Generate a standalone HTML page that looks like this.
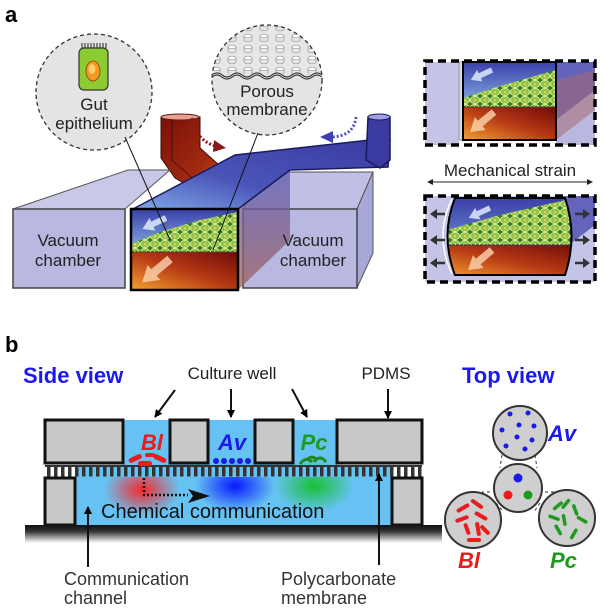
<!DOCTYPE html>
<html><head><meta charset="utf-8"><style>
html,body{margin:0;padding:0;background:#fff;width:604px;height:614px;overflow:hidden}
svg{display:block}
text{font-family:"Liberation Sans",sans-serif}
</style></head><body>
<svg width="604" height="614" viewBox="0 0 604 614" xmlns="http://www.w3.org/2000/svg">
<defs>
<linearGradient id="blueTop" x1="0" y1="0" x2="0" y2="1"><stop offset="0" stop-color="#3a3fa8"/><stop offset="1" stop-color="#8ab4e8"/></linearGradient>
<linearGradient id="redLow" x1="0" y1="1" x2="1" y2="0"><stop offset="0" stop-color="#f5a030"/><stop offset="0.5" stop-color="#b83a14"/><stop offset="1" stop-color="#6e0a0a"/></linearGradient>
<linearGradient id="chanTop" x1="0" y1="1" x2="1" y2="0"><stop offset="0" stop-color="#7fa8e6"/><stop offset="0.4" stop-color="#4a55b8"/><stop offset="1" stop-color="#3a3aa0"/></linearGradient>
<linearGradient id="sideFace" x1="0" y1="0" x2="0" y2="1"><stop offset="0" stop-color="#5a5cb8"/><stop offset="1" stop-color="#a0605a"/></linearGradient>
<linearGradient id="redTube" x1="0" y1="0" x2="1" y2="1"><stop offset="0" stop-color="#7a1008"/><stop offset="0.6" stop-color="#a02a10"/><stop offset="1" stop-color="#e07020"/></linearGradient>
<linearGradient id="base" x1="0" y1="0" x2="0" y2="1"><stop offset="0" stop-color="#111"/><stop offset="0.35" stop-color="#333"/><stop offset="1" stop-color="#fff"/></linearGradient>
<pattern id="cells" width="10" height="8" patternUnits="userSpaceOnUse">
<rect width="10" height="8" fill="#3f7a18"/>
<ellipse cx="5" cy="4" rx="4.6" ry="3.6" fill="#86c83a" stroke="#dff0b0" stroke-width="0.9"/>
<circle cx="5" cy="4.4" r="1.4" fill="#f2c070"/>
</pattern>
<pattern id="pores" width="16" height="11" patternUnits="userSpaceOnUse">
<rect width="16" height="11" fill="#e6e6e6"/>
<ellipse cx="8" cy="3" rx="4" ry="1.8" fill="#fff" stroke="#999" stroke-width="0.7"/>
<path d="M4 3v4a4 1.8 0 0 0 8 0V3" fill="none" stroke="#999" stroke-width="0.7"/>
</pattern>
<radialGradient id="gR"><stop offset="0" stop-color="#ff2020" stop-opacity="0.95"/><stop offset="1" stop-color="#ff2020" stop-opacity="0"/></radialGradient>
<radialGradient id="gB"><stop offset="0" stop-color="#0010ff" stop-opacity="0.95"/><stop offset="1" stop-color="#0010ff" stop-opacity="0"/></radialGradient>
<radialGradient id="gG"><stop offset="0" stop-color="#10c020" stop-opacity="0.9"/><stop offset="1" stop-color="#10c020" stop-opacity="0"/></radialGradient>
<clipPath id="circP"><circle cx="267" cy="80" r="55"/></clipPath>
<marker id="ah" markerWidth="8" markerHeight="8" refX="7" refY="4" orient="auto" markerUnits="userSpaceOnUse"><path d="M0,0L8,4L0,8z" fill="#000"/></marker>
<marker id="ahs" markerWidth="6" markerHeight="6" refX="5" refY="3" orient="auto-start-reverse" markerUnits="userSpaceOnUse"><path d="M0,0L6,3L0,6z" fill="#222"/></marker>
<path id="fa" d="M0,-3 L15,-3 L15,-7 L26,0 L15,7 L15,3 L0,3 Z"/>
</defs>

<text x="5" y="22" font-size="22" font-weight="bold">a</text>

<!-- red tube -->
<path d="M161 117 L200 117 L200 148 L230 175 L205 195 L175 178 L161 158 Z" fill="url(#redTube)" stroke="#3a0a0a" stroke-width="1"/>
<path d="M172 120 V160 L200 185" fill="none" stroke="#3a0a0a" stroke-width="0.8"/>
<ellipse cx="180" cy="117" rx="19" ry="3" fill="#e8a090" stroke="#5a1a1a" stroke-width="1"/>

<!-- left box -->
<polygon points="13,209 125,209 170,170 128,170" fill="#c8c8e8" stroke="#555" stroke-width="1"/>
<rect x="13" y="209" width="112" height="79" fill="#b8b8e0" stroke="#444" stroke-width="1.5"/>
<!-- right box -->
<polygon points="243,209 357,209 373,172 260,172" fill="#c0c0e6" stroke="#555" stroke-width="1"/>
<polygon points="357,209 373,172 373,253 357,288" fill="#a8a8d8" stroke="#555" stroke-width="1"/>
<rect x="243" y="209" width="114" height="79" fill="#b8b8e0" stroke="#444" stroke-width="1.5"/>
<polygon points="238,209 290,170 290,240 238,290" fill="url(#sideFace)" opacity="0.75"/>
<polygon points="133,209 235,155 370,140 390,140 388,167 290,170 238,209" fill="url(#chanTop)" stroke="#1a1a60" stroke-width="1.5"/>
<path d="M368 117 L390 117 L390 160 L380 168 L366 160 Z" fill="#3a3aa0" stroke="#1a1a60" stroke-width="1.5"/>
<ellipse cx="379" cy="117" rx="11" ry="3" fill="#a0a0e0" stroke="#1a1a60" stroke-width="1"/>
<!-- central front -->
<rect x="131" y="209" width="107" height="43" fill="url(#blueTop)"/>
<polygon points="131,252 131,244 160,232 200,220 238,212 238,252" fill="url(#cells)"/>
<rect x="131" y="252" width="107" height="38" fill="url(#redLow)"/>
<line x1="131" y1="252" x2="238" y2="252" stroke="#444" stroke-width="1.5" stroke-dasharray="3,1"/>
<use href="#fa" transform="translate(166,218) rotate(155)" fill="#dfeaff" opacity="0.85"/>
<use href="#fa" transform="translate(170,259) rotate(140) scale(1.4)" fill="#fbd6b0" opacity="0.8"/>
<rect x="131" y="209" width="107" height="81" fill="none" stroke="#000" stroke-width="2.5"/>
<text x="68" y="246" font-size="17" text-anchor="middle" fill="#222">Vacuum</text>
<text x="68" y="266" font-size="17" text-anchor="middle" fill="#222">chamber</text>
<text x="313" y="246" font-size="17" text-anchor="middle" fill="#222">Vacuum</text>
<text x="313" y="266" font-size="17" text-anchor="middle" fill="#222">chamber</text>

<path d="M192 118 Q196 140 215 146" fill="none" stroke="#8a1a1a" stroke-width="3" stroke-dasharray="2,2"/>
<polygon points="214,140 226,148 213,152" fill="#8a1a1a"/>
<path d="M356 117 Q354 136 332 137" fill="none" stroke="#5050b8" stroke-width="3" stroke-dasharray="2,2"/>
<polygon points="333,131 320,137 333,143" fill="#4040b0"/>

<circle cx="94" cy="92" r="58" fill="#e4e4e4" stroke="#333" stroke-width="1.3" stroke-dasharray="4,3"/>
<path d="M82 48 v-5 M85 48 v-5 M88 48 v-5 M91 48 v-5 M94 48 v-5 M97 48 v-5 M100 48 v-5 M103 48 v-5 M106 48 v-5" stroke="#222" stroke-width="1"/>
<rect x="79" y="48" width="29" height="42" rx="5" fill="#8ccc30" stroke="#333" stroke-width="1.2"/>
<ellipse cx="93" cy="71" rx="7" ry="10" fill="#f59a20" stroke="#a05010"/>
<ellipse cx="92" cy="69" rx="3.5" ry="5" fill="#ffcc70"/>
<text x="94" y="110" font-size="17" text-anchor="middle" fill="#222">Gut</text>
<text x="94" y="129" font-size="17" text-anchor="middle" fill="#222">epithelium</text>
<line x1="125" y1="137" x2="170" y2="240" stroke="#111" stroke-width="1"/>

<circle cx="267" cy="80" r="55" fill="#e4e4e4"/>
<rect x="210" y="24" width="115" height="50" fill="url(#pores)" clip-path="url(#circP)"/>
<path d="M212 76 q5 -4 10 0 t10 0 t10 0 t10 0 t10 0 t10 0 t10 0 t10 0 t10 0 t10 0 t10 0" fill="none" stroke="#222" stroke-width="3" clip-path="url(#circP)"/>
<path d="M212 76 q5 -4 10 0 t10 0 t10 0 t10 0 t10 0 t10 0 t10 0 t10 0 t10 0 t10 0 t10 0" fill="none" stroke="#ddd" stroke-width="1" clip-path="url(#circP)"/>
<circle cx="267" cy="80" r="55" fill="none" stroke="#333" stroke-width="1.3" stroke-dasharray="4,3"/>
<text x="267" y="97" font-size="17" text-anchor="middle" fill="#222">Porous</text>
<text x="267" y="115" font-size="17" text-anchor="middle" fill="#222">membrane</text>
<line x1="258" y1="133" x2="213" y2="250" stroke="#111" stroke-width="1"/>

<!-- right panel top -->
<rect x="425" y="62" width="34" height="83" fill="#c4c4e6"/>
<polygon points="459,62 466,62 466,140 459,140" fill="#d8d8f0" stroke="#888" stroke-width="0.8"/>
<rect x="556" y="62" width="39" height="83" fill="#b8b8e0"/>
<polygon points="556,62 595,62 595,90 556,120" fill="#5a5ab8" opacity="0.9"/>
<polygon points="556,80 595,70 595,110 556,140" fill="#a86a70" opacity="0.55"/>
<rect x="463" y="62" width="93" height="45" fill="url(#blueTop)"/>
<polygon points="463,107 463,98 500,86 556,70 556,107" fill="url(#cells)"/>
<rect x="463" y="107" width="93" height="33" fill="url(#redLow)"/>
<line x1="463" y1="107" x2="556" y2="107" stroke="#444" stroke-width="1.5" stroke-dasharray="3,1"/>
<use href="#fa" transform="translate(492,70) rotate(155) scale(0.9)" fill="#dfeaff" opacity="0.85"/>
<use href="#fa" transform="translate(494,112) rotate(140) scale(1.2)" fill="#fbd6b0" opacity="0.8"/>
<rect x="463" y="62" width="93" height="78" fill="none" stroke="#000" stroke-width="2"/>
<rect x="425" y="61" width="170" height="84" fill="none" stroke="#000" stroke-width="3.5" stroke-dasharray="8,5"/>

<text x="510" y="176" font-size="17" text-anchor="middle" fill="#222">Mechanical strain</text>
<line x1="428" y1="182" x2="592" y2="182" stroke="#222" stroke-width="1" marker-start="url(#ahs)" marker-end="url(#ahs)"/>

<!-- right panel bottom -->
<rect x="425" y="196" width="170" height="86" fill="#c4c4e6"/>
<polygon points="556,196 595,196 595,225 556,255" fill="#5a5ab8" opacity="0.9"/>
<clipPath id="bulge"><path d="M455 198 L565 198 Q578 236 565 275 L455 275 Q440 236 455 198 Z"/></clipPath>
<path d="M455 198 L565 198 Q578 236 565 275 L455 275 Q440 236 455 198 Z" fill="url(#blueTop)"/>
<g clip-path="url(#bulge)">
<polygon points="440,245 440,232 500,215 575,198 575,245" fill="url(#cells)"/>
<rect x="440" y="245" width="140" height="32" fill="url(#redLow)"/>
<line x1="440" y1="245" x2="580" y2="245" stroke="#444" stroke-width="1.5" stroke-dasharray="3,1"/>
<use href="#fa" transform="translate(490,208) rotate(155) scale(0.9)" fill="#dfeaff" opacity="0.85"/>
<use href="#fa" transform="translate(492,250) rotate(140) scale(1.2)" fill="#fbd6b0" opacity="0.8"/>
</g>
<path d="M455 198 L565 198 Q578 236 565 275 L455 275 Q440 236 455 198 Z" fill="none" stroke="#000" stroke-width="2"/>
<path d="M452 199 Q434 236 452 274" fill="none" stroke="#fff" stroke-width="1.5"/>
<g stroke="#333" stroke-width="2.5" fill="#333">
<line x1="445" y1="214" x2="434" y2="214"/><polygon points="430,214 437,209 437,219" stroke="none"/>
<line x1="445" y1="240" x2="434" y2="240"/><polygon points="430,240 437,235 437,245" stroke="none"/>
<line x1="445" y1="263" x2="434" y2="263"/><polygon points="430,263 437,258 437,268" stroke="none"/>
<line x1="575" y1="214" x2="586" y2="214"/><polygon points="590,214 583,209 583,219" stroke="none"/>
<line x1="575" y1="240" x2="586" y2="240"/><polygon points="590,240 583,235 583,245" stroke="none"/>
<line x1="575" y1="263" x2="586" y2="263"/><polygon points="590,263 583,258 583,268" stroke="none"/>
</g>
<rect x="425" y="196" width="170" height="86" fill="none" stroke="#000" stroke-width="3.5" stroke-dasharray="8,5"/>

<!-- panel b -->
<text x="5" y="352" font-size="22" font-weight="bold">b</text>
<text x="23" y="383" font-size="22" font-weight="bold" fill="#1a1aee">Side view</text>
<text x="232" y="379" font-size="17" text-anchor="middle" fill="#222">Culture well</text>
<text x="386" y="379" font-size="17" text-anchor="middle" fill="#222">PDMS</text>
<text x="462" y="383" font-size="22" font-weight="bold" fill="#1a1aee">Top view</text>

<rect x="123" y="420" width="214" height="47" fill="#66c2f2"/>
<rect x="75" y="465" width="317" height="60" fill="#66c2f2"/>
<ellipse cx="142" cy="490" rx="38" ry="26" fill="url(#gR)"/>
<ellipse cx="235" cy="486" rx="40" ry="26" fill="url(#gB)"/>
<ellipse cx="314" cy="486" rx="40" ry="26" fill="url(#gG)"/>
<rect x="45" y="465" width="377" height="12" fill="#fff"/>
<rect x="75" y="465" width="317" height="12" fill="#66c2f2"/>
<rect x="45" y="465" width="377" height="2" fill="#333"/>
<path d="M47 471 H422" stroke="#333" stroke-width="11" stroke-dasharray="3.5,3.5"/>
<g fill="#c8c8c8" stroke="#111" stroke-width="3">
<rect x="45" y="420" width="78" height="43"/>
<rect x="170" y="420" width="38" height="43"/>
<rect x="255" y="420" width="38" height="43"/>
<rect x="337" y="420" width="85" height="43"/>
<rect x="45" y="478" width="30" height="47"/>
<rect x="392" y="478" width="30" height="47"/>
</g>
<rect x="25" y="525" width="417" height="18" fill="url(#base)"/>
<g fill="#e81c1c">
<rect x="138" y="461" width="14" height="5" rx="2.5"/>
<rect x="128" y="456" width="14" height="5" rx="2.5" transform="rotate(-25 135 458)"/>
<rect x="153" y="456" width="14" height="5" rx="2.5" transform="rotate(25 160 458)"/>
<rect x="145" y="453" width="10" height="4" rx="2"/>
</g>
<g fill="#1a1ae6"><circle cx="216" cy="461" r="3"/><circle cx="224" cy="461" r="3"/><circle cx="232" cy="461" r="3"/><circle cx="240" cy="461" r="3"/><circle cx="248" cy="461" r="3"/></g>
<g fill="none" stroke="#1e8a1e" stroke-width="3"><path d="M300 464 q6 -8 12 -2"/><path d="M314 462 q6 -8 12 0"/><path d="M307 460 q4 -5 9 -1"/></g>
<text x="152" y="450" font-size="22" font-weight="bold" font-style="italic" text-anchor="middle" fill="#e81c1c">Bl</text>
<text x="232" y="450" font-size="22" font-weight="bold" font-style="italic" text-anchor="middle" fill="#1a1ae6">Av</text>
<text x="314" y="450" font-size="22" font-weight="bold" font-style="italic" text-anchor="middle" fill="#1e9a1e">Pc</text>
<path d="M144 478 V495 H188" fill="none" stroke="#111" stroke-width="2.5" stroke-dasharray="2,2"/>
<polygon points="188,489 210,496 188,503 193,496" fill="#111"/>
<text x="101" y="518" font-size="20" fill="#111">Chemical communication</text>
<g stroke="#111" stroke-width="2">
<line x1="175" y1="390" x2="155" y2="417" marker-end="url(#ah)"/>
<line x1="231" y1="389" x2="231" y2="417" marker-end="url(#ah)"/>
<line x1="292" y1="389" x2="307" y2="417" marker-end="url(#ah)"/>
<line x1="388" y1="389" x2="388" y2="418" marker-end="url(#ah)"/>
<line x1="88" y1="567" x2="88" y2="507" marker-end="url(#ah)"/>
<line x1="379" y1="565" x2="379" y2="474" marker-end="url(#ah)"/>
</g>
<text x="64" y="585" font-size="18" fill="#333">Communication</text>
<text x="64" y="604" font-size="18" fill="#333">channel</text>
<text x="281" y="585" font-size="18" fill="#333">Polycarbonate</text>
<text x="281" y="604" font-size="18" fill="#333">membrane</text>

<g stroke="#333" stroke-width="1" stroke-dasharray="3,3" fill="none">
<line x1="502" y1="455" x2="500" y2="468"/><line x1="535" y1="455" x2="537" y2="468"/>
<line x1="490" y1="492" x2="482" y2="492"/><line x1="496" y1="503" x2="502" y2="510"/>
<line x1="545" y1="492" x2="555" y2="492"/><line x1="540" y1="503" x2="534" y2="512"/>
</g>
<g fill="#cfcfcf" stroke="#333" stroke-width="2">
<circle cx="520" cy="433" r="27"/>
<circle cx="518" cy="488" r="24"/>
<circle cx="473" cy="520" r="28"/>
<circle cx="567" cy="518" r="28"/>
</g>
<g fill="#1a1ae6">
<circle cx="510" cy="414" r="2.5"/><circle cx="528" cy="413" r="2.5"/><circle cx="502" cy="430" r="2.5"/><circle cx="519" cy="425" r="2.5"/><circle cx="534" cy="426" r="2.5"/><circle cx="517" cy="437" r="2.5"/><circle cx="532" cy="440" r="2.5"/><circle cx="506" cy="446" r="2.5"/><circle cx="525" cy="449" r="2.5"/>
<circle cx="518" cy="478" r="4.5"/>
</g>
<circle cx="508" cy="495" r="4.5" fill="#e81c1c"/>
<circle cx="528" cy="495" r="4.5" fill="#1e9a1e"/>
<g fill="#e81c1c">
<rect x="456" y="506" width="14" height="4" rx="2" transform="rotate(-30 463 508)"/>
<rect x="470" y="502" width="14" height="4" rx="2" transform="rotate(35 477 504)"/>
<rect x="455" y="517" width="14" height="4" rx="2" transform="rotate(-20 462 519)"/>
<rect x="474" y="514" width="14" height="4" rx="2" transform="rotate(30 481 516)"/>
<rect x="461" y="527" width="12" height="4" rx="2" transform="rotate(70 467 529)"/>
<rect x="471" y="527" width="14" height="4" rx="2" transform="rotate(80 478 529)"/>
<rect x="479" y="528" width="12" height="4" rx="2" transform="rotate(45 485 530)"/>
<rect x="467" y="538" width="14" height="4" rx="2"/>
</g>
<g fill="#1e9a1e">
<rect x="552" y="504" width="12" height="3.5" rx="1.7" transform="rotate(-40 558 506)"/>
<rect x="560" y="502" width="12" height="3.5" rx="1.7" transform="rotate(-50 566 504)"/>
<rect x="569" y="508" width="12" height="3.5" rx="1.7" transform="rotate(70 575 510)"/>
<rect x="548" y="516" width="12" height="3.5" rx="1.7" transform="rotate(20 554 518)"/>
<rect x="558" y="518" width="12" height="3.5" rx="1.7" transform="rotate(80 564 520)"/>
<rect x="576" y="518" width="12" height="3.5" rx="1.7" transform="rotate(30 582 520)"/>
<rect x="552" y="528" width="12" height="3.5" rx="1.7" transform="rotate(60 558 530)"/>
<rect x="568" y="532" width="12" height="3.5" rx="1.7" transform="rotate(-60 574 534)"/>
</g>
<text x="548" y="441" font-size="22" font-weight="bold" font-style="italic" fill="#1a1ae6">Av</text>
<text x="458" y="568" font-size="22" font-weight="bold" font-style="italic" fill="#e81c1c">Bl</text>
<text x="550" y="568" font-size="22" font-weight="bold" font-style="italic" fill="#1e9a1e">Pc</text>
</svg>
</body></html>
